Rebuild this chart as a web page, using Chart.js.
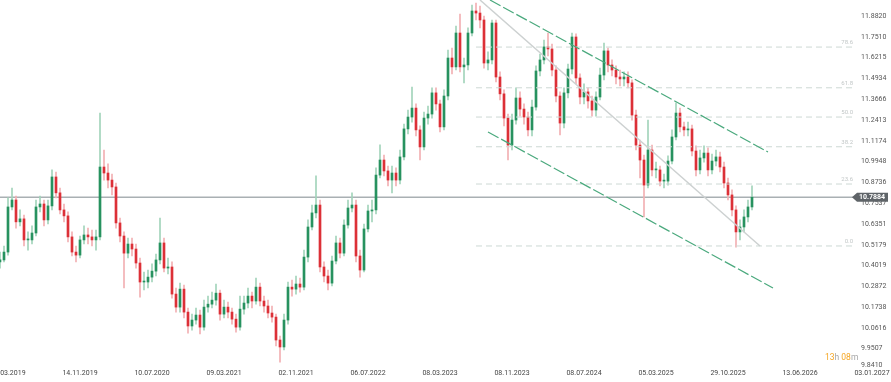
<!DOCTYPE html>
<html><head><meta charset="utf-8">
<script src="https://cdn.jsdelivr.net/npm/chart.js@4.4.1/dist/chart.umd.min.js"></script>
<style>html,body{margin:0;padding:0;background:#fff;overflow:hidden}canvas{display:block}</style>
</head><body>
<canvas id="c" width="891" height="382"></canvas>
<script>
// ---- data (price values) ----
const firstOpen = 10.422;
const closes = [10.433,10.477,10.732,10.772,10.647,10.664,10.545,10.545,10.584,10.732,
10.749,10.658,10.738,10.905,10.813,10.715,10.681,10.562,10.477,10.460,
10.545,10.573,10.562,10.545,10.562,10.963,10.928,10.887,10.847,10.641,
10.567,10.471,10.522,10.494,10.416,10.311,10.311,10.338,10.371,10.433,
10.528,10.388,10.394,10.245,10.174,10.272,10.147,10.072,10.104,10.131,
10.066,10.174,10.190,10.212,10.250,10.136,10.174,10.147,10.109,10.066,
10.163,10.196,10.234,10.207,10.283,10.207,10.180,10.142,10.120,9.997,
9.960,10.104,10.283,10.272,10.300,10.283,10.449,10.618,10.698,10.743,
10.394,10.344,10.305,10.427,10.528,10.471,10.629,10.726,10.743,10.455,
10.377,10.607,10.709,10.715,10.916,11.004,10.940,10.887,10.928,10.887,
11.022,11.188,11.259,11.313,11.182,11.081,11.253,11.277,11.405,11.338,
11.200,11.386,11.619,11.564,11.775,11.564,11.576,11.775,11.914,11.901,
11.857,11.588,11.607,11.838,11.502,11.399,11.253,11.092,11.241,11.374,
11.307,11.259,11.182,11.319,11.539,11.607,11.688,11.675,11.545,11.386,
11.223,11.405,11.551,11.750,11.496,11.380,11.411,11.356,11.301,11.380,
11.514,11.663,11.576,11.545,11.502,11.490,11.502,11.466,11.271,11.092,
11.004,10.858,11.063,10.946,10.946,10.881,10.881,10.998,11.140,11.283,
11.200,11.182,11.188,11.057,10.946,11.016,11.045,10.946,10.998,11.022,
10.963,10.870,10.801,10.715,10.590,10.618,10.675,10.732,10.788];
const highs = [10.477,10.511,10.784,10.841,10.795,10.715,10.686,10.590,10.624,10.772,
10.795,10.772,10.772,10.946,10.934,10.841,10.749,10.704,10.590,10.511,
10.567,10.624,10.612,10.601,10.601,11.283,11.063,10.981,10.922,10.870,
10.669,10.590,10.556,10.556,10.522,10.444,10.366,10.377,10.411,10.466,
10.669,10.556,10.444,10.422,10.278,10.305,10.294,10.169,10.136,10.169,
10.158,10.212,10.234,10.256,10.300,10.267,10.212,10.201,10.169,10.136,
10.234,10.234,10.278,10.256,10.333,10.305,10.234,10.212,10.180,10.136,
10.018,10.136,10.311,10.322,10.344,10.333,10.488,10.658,10.743,10.911,
10.772,10.422,10.377,10.455,10.567,10.556,10.658,10.772,10.813,10.772,
10.488,10.635,10.743,10.772,10.958,11.093,11.033,10.969,10.969,10.958,
11.063,11.217,11.301,11.441,11.338,11.206,11.289,11.325,11.435,11.435,
11.362,11.423,11.669,11.681,11.819,11.895,11.619,11.807,11.952,11.965,
11.946,11.882,11.657,11.857,11.857,11.533,11.423,11.277,11.277,11.435,
11.411,11.338,11.289,11.362,11.570,11.644,11.731,11.775,11.706,11.570,
11.411,11.435,11.582,11.775,11.769,11.521,11.460,11.435,11.386,11.411,
11.557,11.712,11.681,11.607,11.570,11.545,11.533,11.533,11.484,11.301,
11.122,11.033,11.241,11.092,10.992,10.969,10.922,11.028,11.182,11.344,
11.313,11.229,11.229,11.211,11.087,11.063,11.087,11.075,11.039,11.063,
11.051,10.992,10.899,10.830,10.738,10.658,10.715,10.772,10.853];
const lows = [10.388,10.422,10.460,10.715,10.612,10.624,10.511,10.488,10.522,10.567,
10.704,10.624,10.635,10.715,10.784,10.692,10.647,10.534,10.455,10.422,
10.444,10.522,10.522,10.511,10.488,10.545,10.887,10.841,10.801,10.612,
10.534,10.278,10.444,10.455,10.388,10.228,10.267,10.278,10.311,10.344,
10.411,10.366,10.355,10.223,10.147,10.147,10.115,10.034,10.050,10.082,
10.029,10.050,10.147,10.169,10.185,10.104,10.115,10.115,10.082,10.039,
10.050,10.136,10.169,10.169,10.190,10.180,10.147,10.115,10.093,9.965,
9.880,9.944,10.082,10.234,10.245,10.256,10.267,10.422,10.601,10.669,
10.366,10.311,10.267,10.289,10.411,10.444,10.455,10.612,10.704,10.422,
10.338,10.366,10.590,10.647,10.692,10.899,10.911,10.853,10.813,10.853,
10.864,11.004,11.158,11.229,11.146,11.004,11.063,11.217,11.253,11.301,
11.170,11.182,11.362,11.521,11.545,11.533,11.466,11.545,11.756,11.857,
11.807,11.557,11.545,11.582,11.472,11.362,11.206,11.004,11.063,11.217,
11.265,11.217,11.146,11.146,11.301,11.508,11.582,11.632,11.508,11.350,
11.152,11.194,11.374,11.521,11.460,11.338,11.338,11.313,11.265,11.265,
11.362,11.484,11.533,11.508,11.460,11.447,11.447,11.435,11.241,11.063,
10.899,10.675,10.841,10.911,10.899,10.853,10.841,10.858,10.981,11.122,
11.170,11.146,11.146,11.028,10.911,10.922,10.992,10.911,10.922,10.969,
10.934,10.841,10.772,10.681,10.505,10.545,10.590,10.647,10.715];

const xTickIndex  = [2,20,38,56,74,92,110,128,146,164,182,200,218];
const xTickLabels = ['18.03.2019','14.11.2019','10.07.2020','09.03.2021','02.11.2021','06.07.2022','08.03.2023','08.11.2023','08.07.2024','05.03.2025','29.10.2025','13.06.2026','03.01.2027'];
const yTickLabels = ['11.8820','11.7510','11.6215','11.4934','11.3666','11.2413','11.1174','10.9948','10.8736','10.7537','10.6351','10.5179','10.4019','10.2872','10.1738','10.0616','9.9507','9.8410'];

const currentPrice = 10.7884;
const fibLevels = ['0.0','23.6','38.2','50.0','61.8','78.6'];
const fibPrices = [10.511,10.864,11.082,11.259,11.436,11.687];
const fibStart = 119, fibEnd = 213.75;
const upperChannel = [{x:122.5,y:11.984},{x:192,y:11.051}];
const lowerChannel = [{x:122,y:11.170},{x:193.25,y:10.278}];
const midLine      = [{x:120,y:11.984},{x:190,y:10.511}];
const timer = [['13','#f5a623'],['h','#a8a8a8'],[' 08','#f5a623'],['m','#a8a8a8']];

// ---- build ----
const opens = closes.map((c,i)=> i===0 ? firstOpen : closes[i-1]);
const isUp = closes.map((c,i)=> c >= opens[i]);
const UP='#27925f', DOWN='#dc3037', UPW='#a3d4bb', DOWNW='#f2b0b3';

const datasets = [];
datasets.push({type:'line', data:[{x:0,y:currentPrice},{x:213.25,y:currentPrice}], borderColor:'#a9b0b3', borderWidth:1.5, pointRadius:0, order:9});
datasets.push({type:'bar', data: closes.map((c,i)=>({x:i,y:[lows[i],highs[i]]})), backgroundColor: isUp.map(u=>u?UPW:DOWNW), barThickness:1, grouped:false, order:6});
datasets.push({type:'bar', data: closes.map((c,i)=>({x:i,y:[opens[i],c]})), backgroundColor: isUp.map(u=>u?UP:DOWN), barThickness:2, grouped:false, minBarLength:1, order:5});
fibPrices.forEach(p=>{
  datasets.push({type:'line', data:[{x:fibStart,y:p},{x:fibEnd,y:p}], borderColor:'#cdd8d4', borderWidth:1, borderDash:[6,4], pointRadius:0, order:3});
});
datasets.push({type:'line', data:midLine, borderColor:'#cdd1d1', borderWidth:1.5, pointRadius:0, order:2});
datasets.push({type:'line', data:upperChannel, borderColor:'#4aa97d', borderWidth:1.2, borderDash:[12,3], pointRadius:0, order:1});
datasets.push({type:'line', data:lowerChannel, borderColor:'#4aa97d', borderWidth:1.2, borderDash:[12,3], pointRadius:0, order:1});

const overlay = {
  id:'overlay',
  afterDatasetsDraw(chart){
    const {ctx, scales:{x,y}, chartArea} = chart;
    ctx.save();
    // fib labels
    ctx.font = '6px Roboto'; ctx.fillStyle = '#c2c7c7';
    ctx.textAlign = 'right'; ctx.textBaseline = 'bottom';
    fibPrices.forEach((p,i)=> ctx.fillText(fibLevels[i], x.getPixelForValue(fibEnd)-2, y.getPixelForValue(p)-1.5));
    // y tick labels
    ctx.font = '7px Roboto'; ctx.fillStyle = '#555'; ctx.textAlign = 'left'; ctx.textBaseline = 'middle';
    yTickLabels.forEach(t=>{
      let py = y.getPixelForValue(parseFloat(t));
      py = Math.min(py, chartArea.bottom + 1);
      ctx.fillText(t, 861, py);
    });
    // current price box
    const py = y.getPixelForValue(currentPrice);
    ctx.fillStyle = '#5f6468';
    ctx.beginPath();
    ctx.moveTo(852, py); ctx.lineTo(857, py-4.5); ctx.lineTo(888, py-4.5); ctx.lineTo(888, py+4.5); ctx.lineTo(857, py+4.5); ctx.closePath();
    ctx.fill();
    ctx.fillStyle = '#fff'; ctx.font = 'bold 7px Roboto'; ctx.textAlign = 'center';
    ctx.fillText(currentPrice.toFixed(4), 872, py+0.5);
    // timer
    ctx.font = '8.5px Roboto'; ctx.textAlign = 'left'; ctx.textBaseline = 'middle';
    let tx = 825;
    timer.forEach(([s,col])=>{ ctx.fillStyle = col; ctx.fillText(s, tx, 358); tx += ctx.measureText(s).width; });
    ctx.restore();
  }
};

Chart.defaults.font.family = 'Roboto';
new Chart(document.getElementById('c'), {
  type:'bar',
  data:{datasets},
  plugins:[overlay],
  options:{
    responsive:false, animation:false, devicePixelRatio:1,
    layout:{padding:0, autoPadding:false},
    plugins:{legend:{display:false}, tooltip:{enabled:false}},
    scales:{
      x:{type:'linear', min:0, max:222.75, offset:false,
         grid:{display:false, drawTicks:false}, border:{display:false},
         afterBuildTicks:(s)=>{ s.ticks = xTickIndex.map(v=>({value:v})); },
         afterFit:(s)=>{ s.height = 18; s.paddingLeft = 0; s.paddingRight = 0; },
         ticks:{autoSkip:false, maxRotation:0, padding:5, color:'#444', font:{size:7},
                callback:(v,i)=> xTickLabels[i]}},
      y:{type:'logarithmic', min:9.870, max:11.984, display:false}
    }
  }
});
</script>
</body></html>
